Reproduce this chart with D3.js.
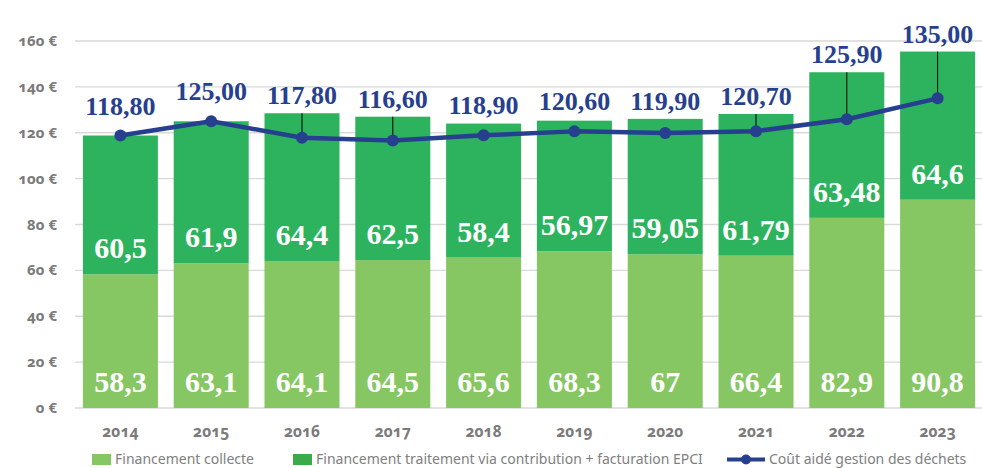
<!DOCTYPE html>
<html>
<head>
<meta charset="utf-8">
<script src="https://cdn.jsdelivr.net/npm/d3@7"></script>
<style>
    body { margin: 0; background: #fff; }
    #chart { width: 982px; height: 468px; }
    .axis-label { font-family: "Noto Sans", sans-serif; font-weight: 700; fill: #7b7b7b; font-variant-numeric: oldstyle-nums; }
    .val { font-family: "Liberation Serif", serif; font-weight: 700; }
    .legend text { font-family: "Noto Sans", sans-serif; font-size: 14px; fill: #808080; }
</style>
</head>
<body>
<div id="chart"></div>
<script>
// chart data
const years = ["2014", "2015", "2016", "2017", "2018", "2019", "2020", "2021", "2022", "2023"];
const collecte = [58.3, 63.1, 64.1, 64.5, 65.6, 68.3, 67, 66.4, 82.9, 90.8];
const traitement = [60.5, 61.9, 64.4, 62.5, 58.4, 56.97, 59.05, 61.79, 63.48, 64.6];
const coutAide = [118.8, 125.0, 117.8, 116.6, 118.9, 120.6, 119.9, 120.7, 125.9, 135.0];
const yTicks = [0, 20, 40, 60, 80, 100, 120, 140, 160];
const legendLabels = ["Financement collecte", "Financement traitement via contribution + facturation EPCI", "Coût aidé gestion des déchets"];

const colLight = "#86c663";
const colDark = "#2db35e";
const colBlue = "#263f8e";

let fmt = (v, dec) => {
    let s = dec === undefined ? String(v) : v.toFixed(dec);
    return s.replace(".", ",");
};

let data = years.map((y, i) => ({
    year: y,
    collecte: collecte[i],
    traitement: traitement[i],
    total: collecte[i] + traitement[i],
    cout: coutAide[i]
}));

let width = 982, height = 468;

let svg = d3.select("#chart").append("svg")
    .attr("width", width)
    .attr("height", height);

let x = d3.scaleBand()
    .domain(years)
    .range([75, 983])
    .paddingInner(0.174)
    .paddingOuter(0.087);

let y = d3.scaleLinear()
    .domain([0, 160])
    .range([408, 41]);

// gridlines
svg.append("g").selectAll("line")
    .data(yTicks)
    .join("line")
    .attr("x1", 75)
    .attr("x2", width)
    .attr("y1", d => y(d))
    .attr("y2", d => y(d))
    .attr("stroke", "#d9d9d9")
    .attr("stroke-width", 1.3);

// y labels
svg.append("g").selectAll("text")
    .data(yTicks)
    .join("text")
    .attr("class", "axis-label")
    .attr("x", 57)
    .attr("y", d => y(d) + 5)
    .attr("text-anchor", "end")
    .style("font-size", "15px")
    .text(d => d + " €");

// x labels
svg.append("g").selectAll("text")
    .data(years)
    .join("text")
    .attr("class", "axis-label")
    .attr("x", d => x(d) + x.bandwidth() / 2)
    .attr("y", 437)
    .attr("text-anchor", "middle")
    .style("font-size", "15.5px")
    .text(d => d);

// stacked bars
let bars = svg.append("g");
bars.selectAll(".bar-c")
    .data(data)
    .join("rect")
    .attr("class", "bar-c")
    .attr("x", d => x(d.year))
    .attr("width", x.bandwidth())
    .attr("y", d => y(d.collecte))
    .attr("height", d => y(0) - y(d.collecte))
    .attr("fill", colLight);

bars.selectAll(".bar-t")
    .data(data)
    .join("rect")
    .attr("class", "bar-t")
    .attr("x", d => x(d.year))
    .attr("width", x.bandwidth())
    .attr("y", d => y(d.total))
    .attr("height", d => y(d.collecte) - y(d.total))
    .attr("fill", colDark);

// white labels at segment base
let cx = d => x(d.year) + x.bandwidth() / 2;
svg.append("g").selectAll("text")
    .data(data)
    .join("text")
    .attr("class", "val")
    .attr("x", cx)
    .attr("y", d => y(0) - 16)
    .attr("text-anchor", "middle")
    .attr("fill", "#fff")
    .style("font-size", "30px")
    .text(d => fmt(d.collecte));

svg.append("g").selectAll("text")
    .data(data)
    .join("text")
    .attr("class", "val")
    .attr("x", cx)
    .attr("y", d => y(d.collecte) - 16)
    .attr("text-anchor", "middle")
    .attr("fill", "#fff")
    .style("font-size", "30px")
    .text(d => fmt(d.traitement));

// leader lines where label was moved above the bar
svg.append("g").selectAll("line")
    .data(data.filter(d => d.total - d.cout > 7))
    .join("line")
    .attr("x1", cx)
    .attr("x2", cx)
    .attr("y1", d => y(d.total))
    .attr("y2", d => y(d.cout))
    .attr("stroke", "#000")
    .attr("stroke-width", 1);

// cost line
let line = d3.line()
    .x(cx)
    .y(d => y(d.cout));

svg.append("path")
    .datum(data)
    .attr("d", line)
    .attr("fill", "none")
    .attr("stroke", colBlue)
    .attr("stroke-width", 4.5)
    .attr("stroke-linejoin", "round");

svg.append("g").selectAll("circle")
    .data(data)
    .join("circle")
    .attr("cx", cx)
    .attr("cy", d => y(d.cout))
    .attr("r", 6)
    .attr("fill", colBlue);

// cost labels
svg.append("g").selectAll("text")
    .data(data)
    .join("text")
    .attr("class", "val")
    .attr("x", cx)
    .attr("y", d => Math.min(y(d.total) - 9, y(d.cout) - 21))
    .attr("text-anchor", "middle")
    .attr("fill", colBlue)
    .style("font-size", "26px")
    .text(d => fmt(d.cout, 2));

// legend
let legend = svg.append("g").attr("class", "legend");
legend.append("rect").attr("x", 92).attr("y", 454).attr("width", 19).attr("height", 11).attr("fill", colLight);
legend.append("text").attr("x", 115).attr("y", 464).text(legendLabels[0]);
legend.append("rect").attr("x", 293).attr("y", 454).attr("width", 19).attr("height", 11).attr("fill", "#3aaa4a");
legend.append("text").attr("x", 316).attr("y", 464).text(legendLabels[1]);
legend.append("line").attr("x1", 727).attr("x2", 765).attr("y1", 459.5).attr("y2", 459.5)
    .attr("stroke", colBlue).attr("stroke-width", 4);
legend.append("circle").attr("cx", 746).attr("cy", 459.5).attr("r", 5).attr("fill", colBlue);
legend.append("text").attr("x", 769).attr("y", 464).text(legendLabels[2]);
</script>
</body>
</html>
